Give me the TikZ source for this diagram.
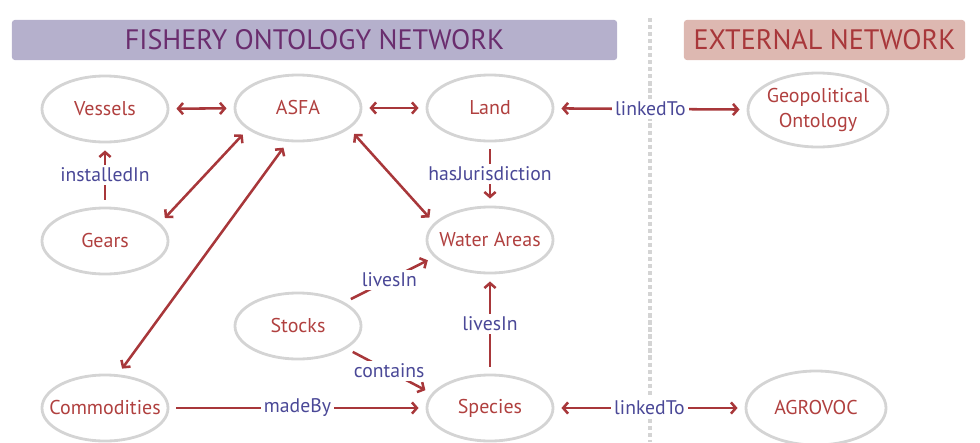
\documentclass[tikz,border=0pt]{standalone}
\usepackage{fontspec}
\setmainfont{PT Sans}
\usetikzlibrary{shapes.geometric,arrows.meta}
\definecolor{ringgray}{HTML}{D4D4D4}
\definecolor{relred}{HTML}{A8373A}
\definecolor{nodered}{HTML}{B0403F}
\definecolor{lblblue}{HTML}{4A4897}
\definecolor{fishbg}{HTML}{B5B0CC}
\definecolor{fishtxt}{HTML}{6A2D6E}
\definecolor{extbg}{HTML}{DDB8B1}
\definecolor{exttxt}{HTML}{A8373A}

\begin{document}
\begin{tikzpicture}
[
x=0.025cm, y=-0.025cm,
>={Straight Barb[length=3.5pt,width=8pt]},
onto/.style={ellipse, draw=ringgray, line width=2pt, text=nodered, minimum width=3.15cm, minimum height=1.65cm, inner xsep=-15pt, inner ysep=0pt, align=center, font=\fontsize{14.2}{17.5}\selectfont},
wide/.style={minimum width=3.5cm, minimum height=1.85cm},
rel/.style={draw=relred, line width=1.8pt, shorten <=5pt, shorten >=5pt},
lbl/.style={fill=white, text=lblblue, inner sep=2pt, font=\fontsize{14}{16}\selectfont},
banner/.style={rounded corners=2pt, minimum height=1cm, font=\fontsize{20}{24}\selectfont}
]
\useasboundingbox (0,0) rectangle (980,442);

\node[banner, fill=fishbg, text=fishtxt, minimum width=15.125cm] (fish) at (314.5,40) {FISHERY ONTOLOGY NETWORK};
\node[banner, fill=extbg, text=exttxt, minimum width=7.025cm] (ext) at (824.5,40) {EXTERNAL NETWORK};
\draw[ringgray, line width=3pt, dash pattern=on 3pt off 2pt] (650,18) -- (650,442);

\node[onto] (vessels) at (105,109) {Vessels};
\node[onto] (asfa) at (298,108) {ASFA};
\node[onto] (land) at (490,108) {Land};
\node[onto, wide] (geo) at (818,110) {Geopolitical\\Ontology};
\node[onto] (gears) at (105,241) {Gears};
\node[onto] (water) at (490,240) {Water Areas};
\node[onto] (stocks) at (298,326) {Stocks};
\node[onto] (comm) at (105,408) {Commodities};
\node[onto] (species) at (490,408) {Species};
\node[onto, wide] (agrovoc) at (816,408) {AGROVOC};

\draw[rel,<->] (vessels) -- (asfa);
\draw[rel,<->] (asfa) -- (land);
\draw[rel,<->] (land) -- node[lbl] {linkedTo} (geo);
\draw[rel,->] (gears) -- node[lbl] {installedIn} (vessels);
\draw[rel,<->] (asfa.203) -- (gears.18);
\draw[rel,<->] (asfa.253) -- (comm.69);
\draw[rel,<->] (asfa.338) -- (water.163);
\draw[rel,->] (land) -- node[lbl] {hasJurisdiction} (water);
\draw[rel,->] (stocks.27) -- node[lbl] {livesIn} (water.197);
\draw[rel,->] (stocks.335) -- node[lbl] {contains} (species.166);
\draw[rel,->] (species) -- node[lbl] {livesIn} (water);
\draw[rel,->] (comm) -- node[lbl] {madeBy} (species);
\draw[rel,<->] (species) -- node[lbl] {linkedTo} (agrovoc);
\end{tikzpicture}
\end{document}
